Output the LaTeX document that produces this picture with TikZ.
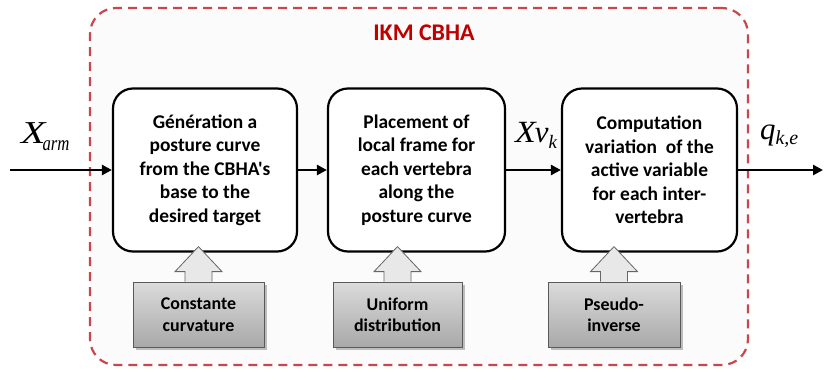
\documentclass[tikz,border=0pt]{standalone}
\usepackage{fontspec}
\setmainfont{Carlito}[Ligatures=TeXOff]
\newfontfamily\tnr{Liberation Serif}
\usetikzlibrary{calc,arrows.meta,shadows}
\definecolor{ikmred}{HTML}{C00000}
\definecolor{dashred}{HTML}{C9474A}
\tikzset{
  procbox/.style={draw=black,line width=2.2bp,rounded corners=20bp,fill=white,
    align=center,font=\fontsize{19.5}{23.5}\selectfont\bfseries,inner sep=0pt,
    minimum height=163bp},
  methbox/.style={draw=black!65,line width=0.8bp,top color=black!14,bottom color=black!34,
    align=center,font=\fontsize{18}{21.5}\selectfont\bfseries,inner sep=0pt,
    minimum height=65bp,drop shadow={shadow xshift=2.5bp,shadow yshift=-2.5bp,opacity=0.5}},
  flow/.style={line width=2.6bp,-{Triangle[length=10bp,width=10bp]}},
  uparrow/.style={draw=black!60,line width=0.8bp,fill=black!9},
  mathlbl/.style={inner sep=0pt,font=\tnr\itshape},
}
\begin{document}
\begin{tikzpicture}[x=1bp,y=-1bp]
\useasboundingbox (0,0) rectangle (824,372);
\fill[white] (0,0) rectangle (824,372);
\node[draw=dashred,line width=2.2bp,dash pattern=on 9bp off 6bp,rounded corners=26bp,
  fill=black!1.5,minimum width=658bp,minimum height=357bp,inner sep=0pt] (cont) at (419,186.5) {};
\node[font=\fontsize{24}{24}\selectfont\bfseries,text=ikmred] (title) at (424,33) {IKM CBHA};
\node[procbox,minimum width=184bp] (b1) at (205,170) {Génération a\\posture curve\\from the CBHA's\\base to the\\desired target};
\node[procbox,minimum width=177bp] (b2) at (416.5,170) {Placement of\\local frame for\\each vertebra\\along the\\posture curve};
\node[procbox,minimum width=175bp] (b3) at (649.5,170) {Computation\\variation\ \ of the\\active variable\\for each inter-\\vertebra};
\node[methbox,minimum width=131bp] (ga) at (198.5,314.5) {Constante\\curvature};
\node[methbox,minimum width=129bp] (gb) at (397.5,314.5) {Uniform\\distribution};
\node[methbox,minimum width=132bp] (gc) at (614,314.5) {Pseudo-\\inverse};
\foreach \g in {ga,gb,gc}{
  \draw[uparrow] ($(\g.north)+(-13.5,0)$) -- ++(0,-10) -- ++(-10,0)
    -- ($(\g.north)+(0,-35)$) -- ($(\g.north)+(23.5,-10)$) -- ++(-10,0) -- ($(\g.north)+(13.5,0)$);
}
\coordinate (in) at (10,170);
\coordinate (out) at (823,170);
\draw[flow] (in) -- (b1.west);
\draw[flow] (b1.east) -- (b2.west);
\draw[flow] (b2.east) -- (b3.west);
\draw[flow] (b3.east) -- (out);
\node[mathlbl,anchor=base west] (lx) at (21,143) {\fontsize{32}{32}\selectfont\scalebox{1.25}[1]{X}\kern-3bp\raisebox{-7bp}{\fontsize{21}{21}\selectfont\scalebox{0.8}[1]{arm}}};
\node[mathlbl,anchor=base west] (lv) at (515,142) {\fontsize{31}{31}\selectfont\scalebox{1.1}[1]{X}\kern-1bp v\raisebox{-6bp}{\fontsize{19}{19}\selectfont k}};
\node[mathlbl,anchor=base west] (lq) at (760,139) {\fontsize{31}{31}\selectfont q\raisebox{-5bp}{\fontsize{20}{20}\selectfont k,e}};
\end{tikzpicture}
\end{document}
